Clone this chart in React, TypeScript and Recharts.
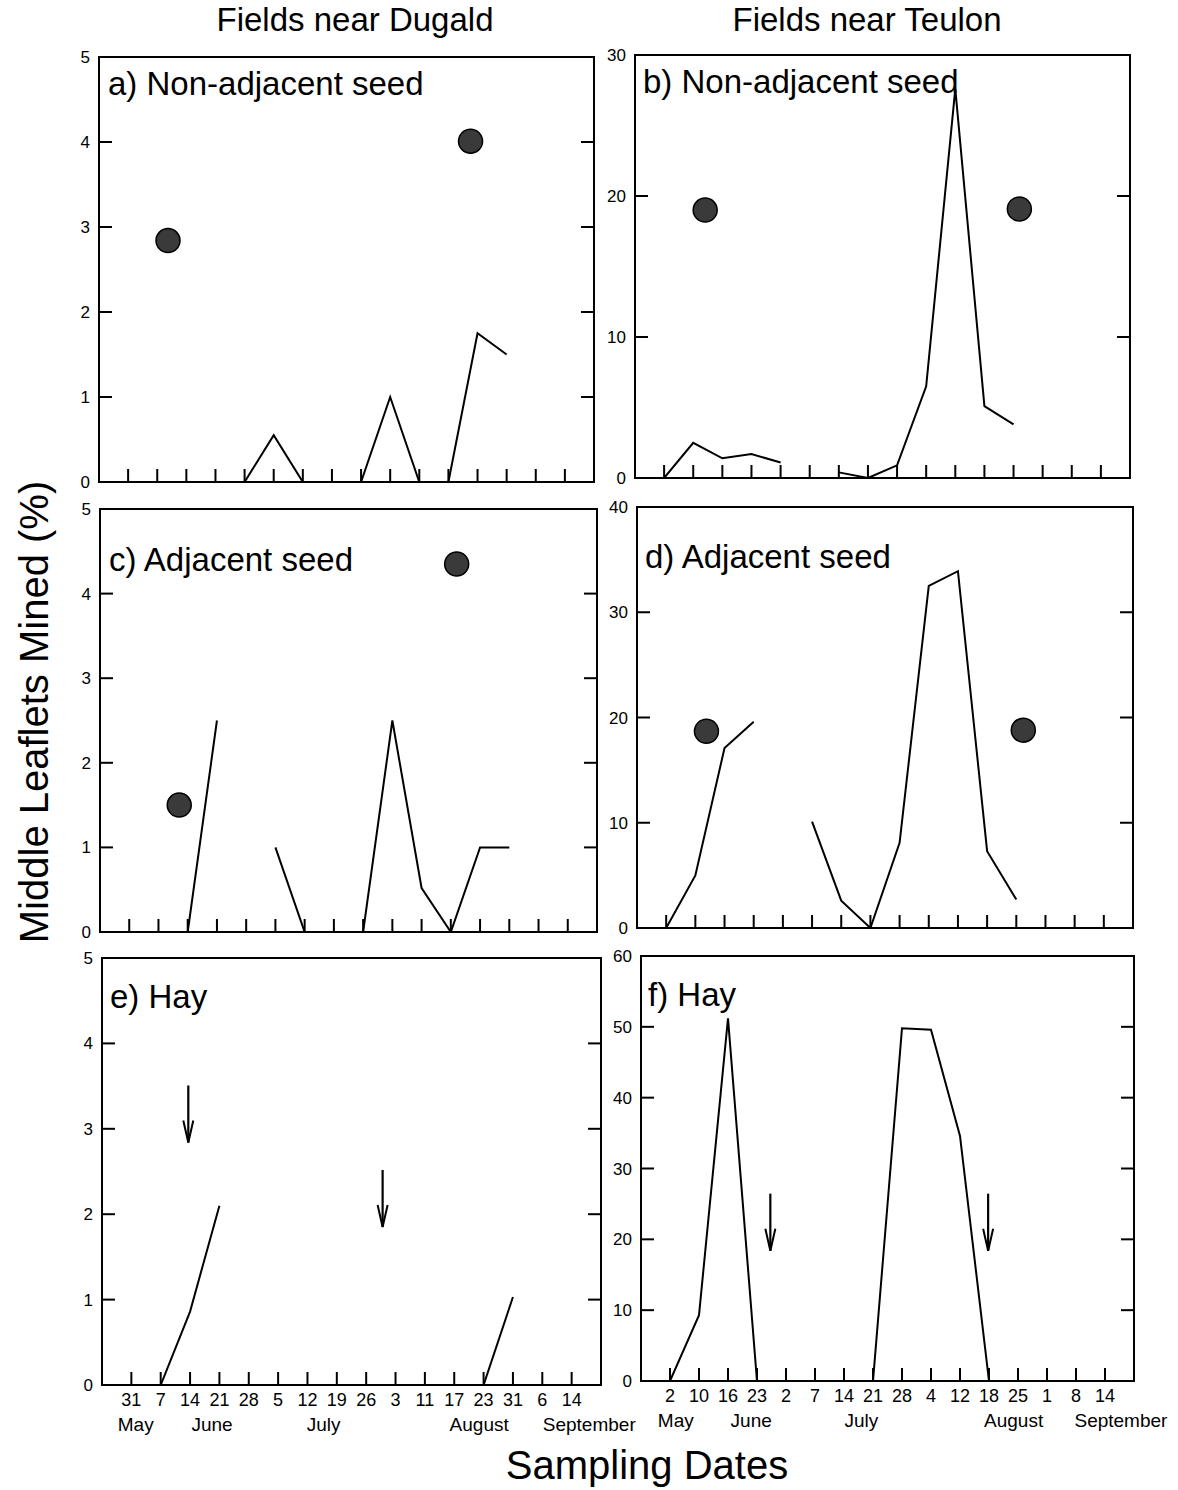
import React from 'react';
import { ComposedChart, Line, Scatter, XAxis, YAxis, ReferenceArea } from 'recharts';

const FONT = '"Liberation Sans", Arial, Helvetica, sans-serif';

// Sampling date tick labels (16 per site)
const datesDugald = ['31', '7', '14', '21', '28', '5', '12', '19', '26', '3', '11', '17', '23', '31', '6', '14'];
const datesTeulon = ['2', '10', '16', '23', '2', '7', '14', '21', '28', '4', '12', '18', '25', '1', '8', '14'];
const dateIndex = [1, 2, 3, 4, 5, 6, 7, 8, 9, 10, 11, 12, 13, 14, 15, 16];

// Month labels and where they sit along the date axis (in sampling-date units)
const monthNames = ['May', 'June', 'July', 'August', 'September'];
const monthPosDugald = [1.15, 3.75, 7.55, 12.85, 16.6];
const monthPosTeulon = [1.2, 3.8, 7.6, 12.85, 16.55];

// % middle leaflets mined at each sampling date (null = no sample)
const seriesA = [null, null, null, null, 0, 0.55, 0, null, 0, 1.0, 0, 0, 1.75, 1.5, null, null];
const seriesB = [0, 2.5, 1.4, 1.7, 1.1, null, 0.4, 0, 0.9, 6.5, 27.6, 5.1, 3.8, null, null, null];
const seriesC = [null, null, 0, 2.5, null, 1.0, 0, null, 0, 2.5, 0.52, 0, 1.0, 1.0, null, null];
const seriesD = [0, 5.0, 17.1, 19.6, null, 10.1, 2.6, 0, 8.1, 32.5, 33.9, 7.3, 2.7, null, null, null];
const seriesE = [null, 0, 0.86, 2.1, null, null, null, null, null, null, null, null, 0, 1.03, null, null];
const seriesF = [0, 9.3, 51.2, 0, null, null, null, 0, 49.8, 49.6, 34.6, 0, null, null, null, null];

// Filled circles
const circlesA = [{ x: 2.37, y: 2.84 }, { x: 12.76, y: 4.01 }];
const circlesB = [{ x: 2.41, y: 19.0 }, { x: 13.2, y: 19.08 }];
const circlesC = [{ x: 2.71, y: 1.5 }, { x: 12.2, y: 4.35 }];
const circlesD = [{ x: 2.38, y: 18.7 }, { x: 13.24, y: 18.8 }];

// Arrows (tip position)
const arrowsE = [{ x: 2.94, y: 2.84 }, { x: 9.56, y: 1.85 }];
const arrowsF = [{ x: 4.46, y: 18.4 }, { x: 11.97, y: 18.4 }];

const ticks5 = [0, 1, 2, 3, 4, 5];
const ticks30 = [0, 10, 20, 30];
const ticks40 = [0, 10, 20, 30, 40];
const ticks60 = [0, 10, 20, 30, 40, 50, 60];

const YW = 50;
const MT = 15;
const RW = 1;

const CircleShape = (p: any) => (
  <circle cx={p.cx} cy={p.cy} r={12} fill="#3a3a3a" stroke="#000" strokeWidth={1.5} />
);

const ArrowShape = (p: any) => {
  const { cx, cy } = p;
  return (
    <g>
      <line x1={cx} y1={cy - 57} x2={cx} y2={cy} stroke="#000" strokeWidth={2.2} />
      <path d={`M ${cx - 5} ${cy - 22} L ${cx} ${cy} L ${cx + 5} ${cy - 22}`} stroke="#000" strokeWidth={2} fill="none" />
    </g>
  );
};

const blank = () => '';

type PanelProps = {
  x0: number;
  top: number;
  w: number;
  h: number;
  yMax: number;
  yTicks: number[];
  series: (number | null)[];
  circles?: { x: number; y: number }[];
  arrows?: { x: number; y: number }[];
  dates?: string[];
  monthPos?: number[];
};

function Panel(props: PanelProps) {
  const { x0, top, w, h, yMax, yTicks, series, circles, arrows, dates, monthPos } = props;
  const data = dateIndex.map((i, k) => ({ x: i, y: series[k] }));
  const bottomRow = !!dates;
  const MR = bottomRow ? 50 : 8;
  const XH = bottomRow ? 30 : 14;
  const MH = bottomRow ? 32 : 0;
  const chartW = YW + w + RW + MR;
  const chartH = MT + h + XH + MH;
  const axisStyle = { fill: '#000', fontSize: 17, fontFamily: FONT };
  return (
    <div style={{ position: 'absolute', left: x0 - YW, top: top - MT, width: chartW, height: chartH }}>
      <ComposedChart width={chartW} height={chartH} data={data} margin={{ top: MT, right: MR, left: 0, bottom: 0 }}>
        <XAxis
          xAxisId="d"
          type="number"
          dataKey="x"
          domain={[0, 17]}
          ticks={dateIndex}
          interval={0}
          allowDataOverflow
          height={XH}
          stroke="#000"
          strokeWidth={2}
          tickSize={-13}
          tickMargin={21}
          tick={{ fill: '#000', fontSize: 18, fontFamily: FONT }}
          tickFormatter={(v: number) => (dates ? dates[v - 1] : '')}
        />
        {bottomRow && (
          <XAxis
            xAxisId="m"
            type="number"
            dataKey="x"
            domain={[0, 17]}
            ticks={monthPos}
            interval={0}
            allowDataOverflow
            height={MH}
            axisLine={false}
            tickLine={false}
            tickSize={0}
            tickMargin={3}
            tick={{ fill: '#000', fontSize: 19, fontFamily: FONT }}
            tickFormatter={(v: number) => monthNames[(monthPos as number[]).indexOf(v)]}
          />
        )}
        <YAxis
          yAxisId="l"
          type="number"
          domain={[0, yMax]}
          ticks={yTicks}
          interval={0}
          allowDataOverflow
          width={YW}
          stroke="#000"
          strokeWidth={2}
          tickSize={-13}
          tickMargin={22}
          tick={axisStyle}
        />
        <YAxis
          yAxisId="r"
          orientation="right"
          type="number"
          domain={[0, yMax]}
          ticks={yTicks}
          interval={0}
          allowDataOverflow
          width={RW}
          stroke="#000"
          strokeWidth={2}
          tickSize={-13}
          tickMargin={0}
          tick={{ fontSize: 1, fill: 'none' }}
          tickFormatter={blank}
        />
        <ReferenceArea
          xAxisId="d"
          yAxisId="l"
          x1={0}
          x2={17}
          y1={0}
          y2={yMax}
          fill="none"
          fillOpacity={0}
          stroke="#000"
          strokeWidth={2}
        />
        <Line
          xAxisId="d"
          yAxisId="l"
          type="linear"
          dataKey="y"
          stroke="#000"
          strokeWidth={2}
          dot={false}
          activeDot={false}
          isAnimationActive={false}
        />
        {circles && (
          <Scatter xAxisId="d" yAxisId="l" data={circles} dataKey="y" shape={CircleShape} isAnimationActive={false} />
        )}
        {arrows && (
          <Scatter xAxisId="d" yAxisId="l" data={arrows} dataKey="y" shape={ArrowShape} isAnimationActive={false} />
        )}
      </ComposedChart>
    </div>
  );
}

const panelLabels = [
  { text: 'a) Non-adjacent seed', x: 108, y: 95 },
  { text: 'b) Non-adjacent seed', x: 643, y: 93 },
  { text: 'c) Adjacent seed', x: 109, y: 571 },
  { text: 'd) Adjacent seed', x: 645, y: 568 },
  { text: 'e) Hay', x: 110, y: 1008 },
  { text: 'f) Hay', x: 648, y: 1006 },
];

export default function App() {
  return (
    <div style={{ position: 'absolute', left: 0, top: 0, width: 1178, height: 1490, background: '#fff', fontFamily: FONT }}>
      <Panel x0={99} top={57} w={495} h={425} yMax={5} yTicks={ticks5} series={seriesA} circles={circlesA} />
      <Panel x0={635} top={55} w={495} h={423} yMax={30} yTicks={ticks30} series={seriesB} circles={circlesB} />
      <Panel x0={100} top={509} w={497} h={423} yMax={5} yTicks={ticks5} series={seriesC} circles={circlesC} />
      <Panel x0={637} top={507} w={496} h={421} yMax={40} yTicks={ticks40} series={seriesD} circles={circlesD} />
      <Panel x0={102} top={958} w={499} h={427} yMax={5} yTicks={ticks5} series={seriesE} arrows={arrowsE} dates={datesDugald} monthPos={monthPosDugald} />
      <Panel x0={641} top={956} w={493} h={425} yMax={60} yTicks={ticks60} series={seriesF} arrows={arrowsF} dates={datesTeulon} monthPos={monthPosTeulon} />
      <svg width={1178} height={1490} style={{ position: 'absolute', left: 0, top: 0, pointerEvents: 'none' }}>
        <text x={355} y={31} textAnchor="middle" fontSize={33} fontFamily={FONT} fill="#000">Fields near Dugald</text>
        <text x={867} y={31} textAnchor="middle" fontSize={33} fontFamily={FONT} fill="#000">Fields near Teulon</text>
        {panelLabels.map((l) => (
          <text key={l.text + l.x} x={l.x} y={l.y} fontSize={33} fontFamily={FONT} fill="#000">{l.text}</text>
        ))}
        <text x={647} y={1479} textAnchor="middle" fontSize={40} fontFamily={FONT} fill="#000">Sampling Dates</text>
        <text x={48} y={712} textAnchor="middle" fontSize={40} fontFamily={FONT} fill="#000" transform="rotate(-90, 48, 712)">Middle Leaflets Mined (%)</text>
      </svg>
    </div>
  );
}
